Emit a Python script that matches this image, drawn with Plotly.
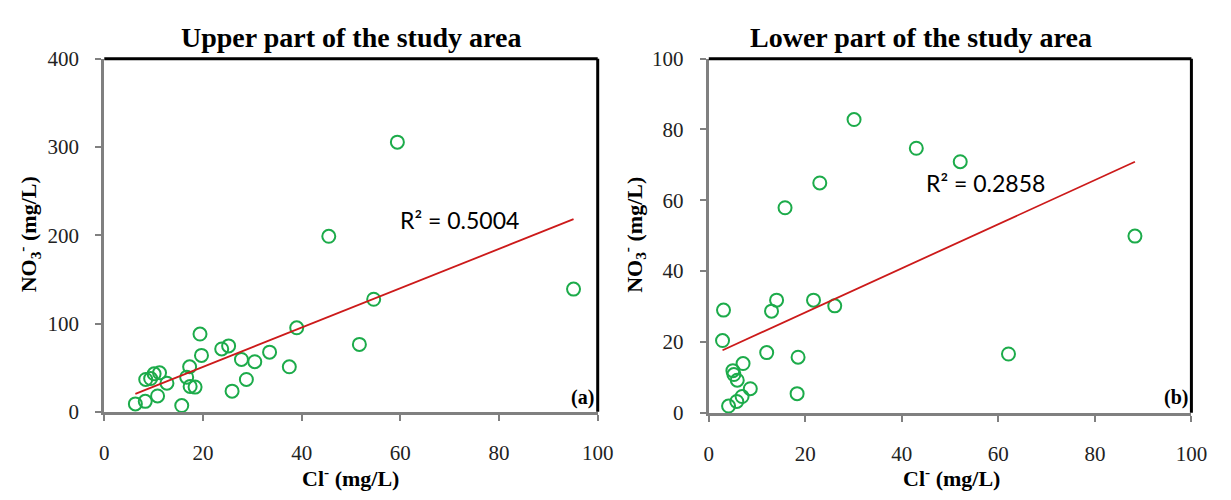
import plotly.graph_objects as go

# ---------------- data ----------------
upper_cl = [6.3, 8.3, 10.8, 8.4, 9.4, 10.1, 11.2, 12.7, 15.7, 16.7, 17.3, 17.4, 18.4, 19.4,
            19.7, 23.8, 25.2, 25.9, 27.8, 28.8, 30.5, 33.5, 37.5, 39.0, 51.7, 54.6, 45.5,
            59.4, 95.1]
upper_no3 = [9.0, 11.9, 18.0, 36.7, 37.7, 43.1, 44.2, 32.4, 7.1, 39.2, 51.0, 28.8, 28.0, 88.1,
             63.9, 71.2, 74.7, 23.4, 59.3, 36.7, 56.8, 67.6, 51.0, 95.2, 76.4, 127.5, 198.8,
             305.4, 139.0]
upper_slope, upper_intercept = 2.228, 6.3
upper_r2_label = "R² = 0.5004"

lower_cl = [3.05, 2.85, 5.0, 5.2, 5.9, 7.1, 4.1, 5.8, 6.9, 8.6, 12.0, 13.0, 14.05, 18.5,
            18.3, 21.7, 26.1, 23.0, 30.1, 43.0, 52.1, 88.3, 62.1, 15.8]
lower_no3 = [29.0, 20.4, 11.9, 10.8, 9.2, 13.9, 1.9, 3.2, 4.6, 6.8, 17.0, 28.7, 31.8, 15.7,
             5.4, 31.8, 30.2, 64.9, 82.8, 74.7, 70.9, 49.9, 16.6, 57.9]
lower_slope, lower_intercept = 0.6226, 15.9
lower_r2_label = "R² = 0.2858"

upper_title = "Upper part of the study area"
lower_title = "Lower part of the study area"
x_title = "Cl<sup>-</sup> (mg/L)"
y_title = "NO<sub>3</sub><sup>-</sup> (mg/L)"

# ---------------- style ----------------
W, H = 1231, 500
GREEN = "#1cab4a"
RED = "#cc1a1a"
AXIS_GRAY = "#808080"
SERIF = "Liberation Serif"
SANS = "Lato"


def px(x):
    return x / W


def py(y):
    return 1 - y / H


fig = go.Figure()

for cl, no3, slope, icpt, xa, ya in [
    (upper_cl, upper_no3, upper_slope, upper_intercept, "x", "y"),
    (lower_cl, lower_no3, lower_slope, lower_intercept, "x2", "y2"),
]:
    fig.add_trace(go.Scatter(
        x=cl, y=no3, mode="markers", xaxis=xa, yaxis=ya, showlegend=False,
        marker=dict(symbol="circle-open", size=13, color=GREEN, line=dict(width=2, color=GREEN)),
        cliponaxis=False,
    ))
    tx = [min(cl), max(cl)]
    fig.add_trace(go.Scatter(
        x=tx, y=[icpt + slope * v for v in tx], mode="lines", xaxis=xa, yaxis=ya,
        showlegend=False, line=dict(color=RED, width=1.8),
    ))

axis_common = dict(
    showline=True, linecolor=AXIS_GRAY, linewidth=3, ticks="outside", ticklen=6,
    tickwidth=2, tickcolor=AXIS_GRAY, showgrid=False, zeroline=False,
    tickfont=dict(family=SERIF, size=21, color="#222"),
)

fig.update_layout(
    width=W, height=H, margin=dict(l=0, r=0, t=0, b=0),
    paper_bgcolor="white", plot_bgcolor="white",
    font=dict(family=SERIF),
    xaxis=dict(domain=[px(101), px(603)], range=[0, 100], dtick=20, anchor="y",
               ticklabelstandoff=14, **axis_common),
    yaxis=dict(domain=[py(420), py(49)], range=[0, 400], dtick=100, anchor="x",
               ticklabelstandoff=12, **axis_common),
    xaxis2=dict(domain=[px(716), px(1207)], range=[0, 100], dtick=20, anchor="y2",
                ticklabelstandoff=14, **axis_common),
    yaxis2=dict(domain=[py(421), py(49)], range=[0, 100], dtick=20, anchor="x2",
                ticklabelstandoff=12, **axis_common),
)

# black top/right borders
for xr, yr in [("x domain", "y domain"), ("x2 domain", "y2 domain")]:
    fig.add_shape(type="line", xref=xr, yref=yr, x0=0, x1=1, y0=1, y1=1,
                  line=dict(color="black", width=3))
    fig.add_shape(type="line", xref=xr, yref=yr, x0=1, x1=1, y0=0, y1=1,
                  line=dict(color="black", width=3))

ann = []
# titles
ann.append(dict(text="<b>%s</b>" % upper_title, x=px(352), y=py(27), font=dict(family=SERIF, size=28, color="black")))
ann.append(dict(text="<b>%s</b>" % lower_title, x=px(932), y=py(27), font=dict(family=SERIF, size=28, color="black")))
# axis titles
for xc in [351, 963]:
    ann.append(dict(text="<b>%s</b>" % x_title, x=px(xc), y=py(488), font=dict(family=SERIF, size=22, color="black")))
for xc in [24, 640]:
    ann.append(dict(text="<b>%s</b>" % y_title, x=px(xc), y=py(234), textangle=-90,
                    font=dict(family=SERIF, size=22, color="black")))
# panel labels
ann.append(dict(text="<b>(a)</b>", x=px(588), y=py(405), font=dict(family=SERIF, size=20, color="black")))
ann.append(dict(text="<b>(b)</b>", x=px(1191), y=py(405), font=dict(family=SERIF, size=20, color="black")))
# R2 labels
ann.append(dict(text=upper_r2_label, x=px(462), y=py(219), font=dict(family=SANS, size=23, color="black")))
ann.append(dict(text=lower_r2_label, x=px(998), y=py(180), font=dict(family=SANS, size=23, color="black")))

for a in ann:
    a.update(xref="paper", yref="paper", showarrow=False, xanchor="center", yanchor="middle")
    fig.add_annotation(**a)

fig.write_html("out.html")
